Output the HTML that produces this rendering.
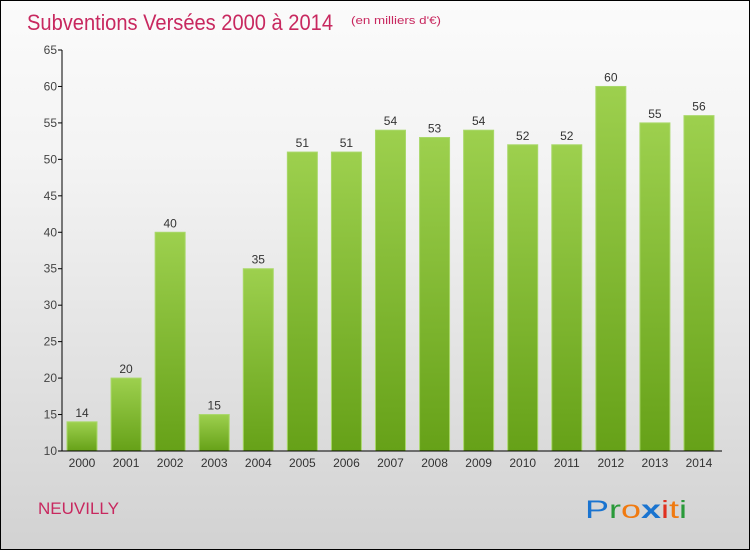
<!DOCTYPE html>
<html><head><meta charset="utf-8"><style>
body{margin:0;}
#c{position:relative;width:748px;height:548px;border:1px solid #000;background:linear-gradient(#fbfbfb,#f3f3f3 30%,#d2d2d2);font-family:"Liberation Sans",sans-serif;overflow:hidden}
</style></head><body>
<div id="c">
<svg id="s" width="748" height="548" style="position:absolute;left:0;top:0">
<defs><linearGradient id="g" x1="0" y1="0" x2="0" y2="1"><stop offset="0" stop-color="#9dd04e"/><stop offset="1" stop-color="#66a118"/></linearGradient></defs>
<text x="26" y="29" font-size="22" fill="#c8285f" textLength="306" lengthAdjust="spacingAndGlyphs">Subventions Versées 2000 à 2014</text>
<text x="350" y="23" font-size="11" fill="#c8285f" textLength="90" lengthAdjust="spacingAndGlyphs">(en milliers d'€)</text>
<text x="37" y="513" font-size="17" fill="#c8285f">NEUVILLY</text>
<g font-size="25">
<text x="584" y="517" textLength="102" lengthAdjust="spacingAndGlyphs"><tspan fill="#1a74d0">P</tspan><tspan fill="#2a9a3a">r</tspan><tspan fill="#f07a10">o</tspan><tspan fill="#1a74d0" font-weight="bold">x</tspan><tspan fill="#e03020">i</tspan><tspan fill="#f07a10">t</tspan><tspan fill="#2a9a3a">i</tspan></text></g>
</svg>
</div>
<script>
const years=["2000","2001","2002","2003","2004","2005","2006","2007","2008","2009","2010","2011","2012","2013","2014"];
const values=[14,20,40,15,35,51,51,54,53,54,52,52,60,55,56];
const yTicks=[10,15,20,25,30,35,40,45,50,55,60,65];
const s=document.getElementById('s');const NS='http://www.w3.org/2000/svg';
const y0=450,y1=49,vmin=10,vmax=65;
function Y(v){return y0-(v-vmin)/(vmax-vmin)*(y0-y1);}
function X(i){return 81+i*44.07;}
function el(t,a,p){const e=document.createElementNS(NS,t);for(const k in a)e.setAttribute(k,a[k]);(p||s).appendChild(e);return e;}
values.forEach((v,i)=>{
const r=el('rect',{x:X(i)-15,y:Y(v),width:30,height:y0-Y(v),fill:'url(#g)',stroke:'#a9d86a','stroke-width':1});


const t=el('text',{x:X(i),y:Y(v)-5,'font-size':12,fill:'#333','text-anchor':'middle'});t.textContent=v;


const xl=el('text',{x:X(i),y:y0+16,'font-size':12,fill:'#333','text-anchor':'middle'});xl.textContent=years[i];


});
yTicks.forEach(v=>{
const l=el('line',{x1:57,x2:61,y1:Y(v),y2:Y(v),stroke:'#000'});


const t=el('text',{x:56,y:Y(v)+4,'font-size':12,fill:'#444','text-anchor':'end'});t.textContent=v;


});
const ya=el('line',{x1:61,x2:61,y1:y1,y2:y0,stroke:'#000'});


const xa=el('line',{x1:61,x2:721,y1:y0,y2:y0,stroke:'#000'});


</script>
</body></html>
